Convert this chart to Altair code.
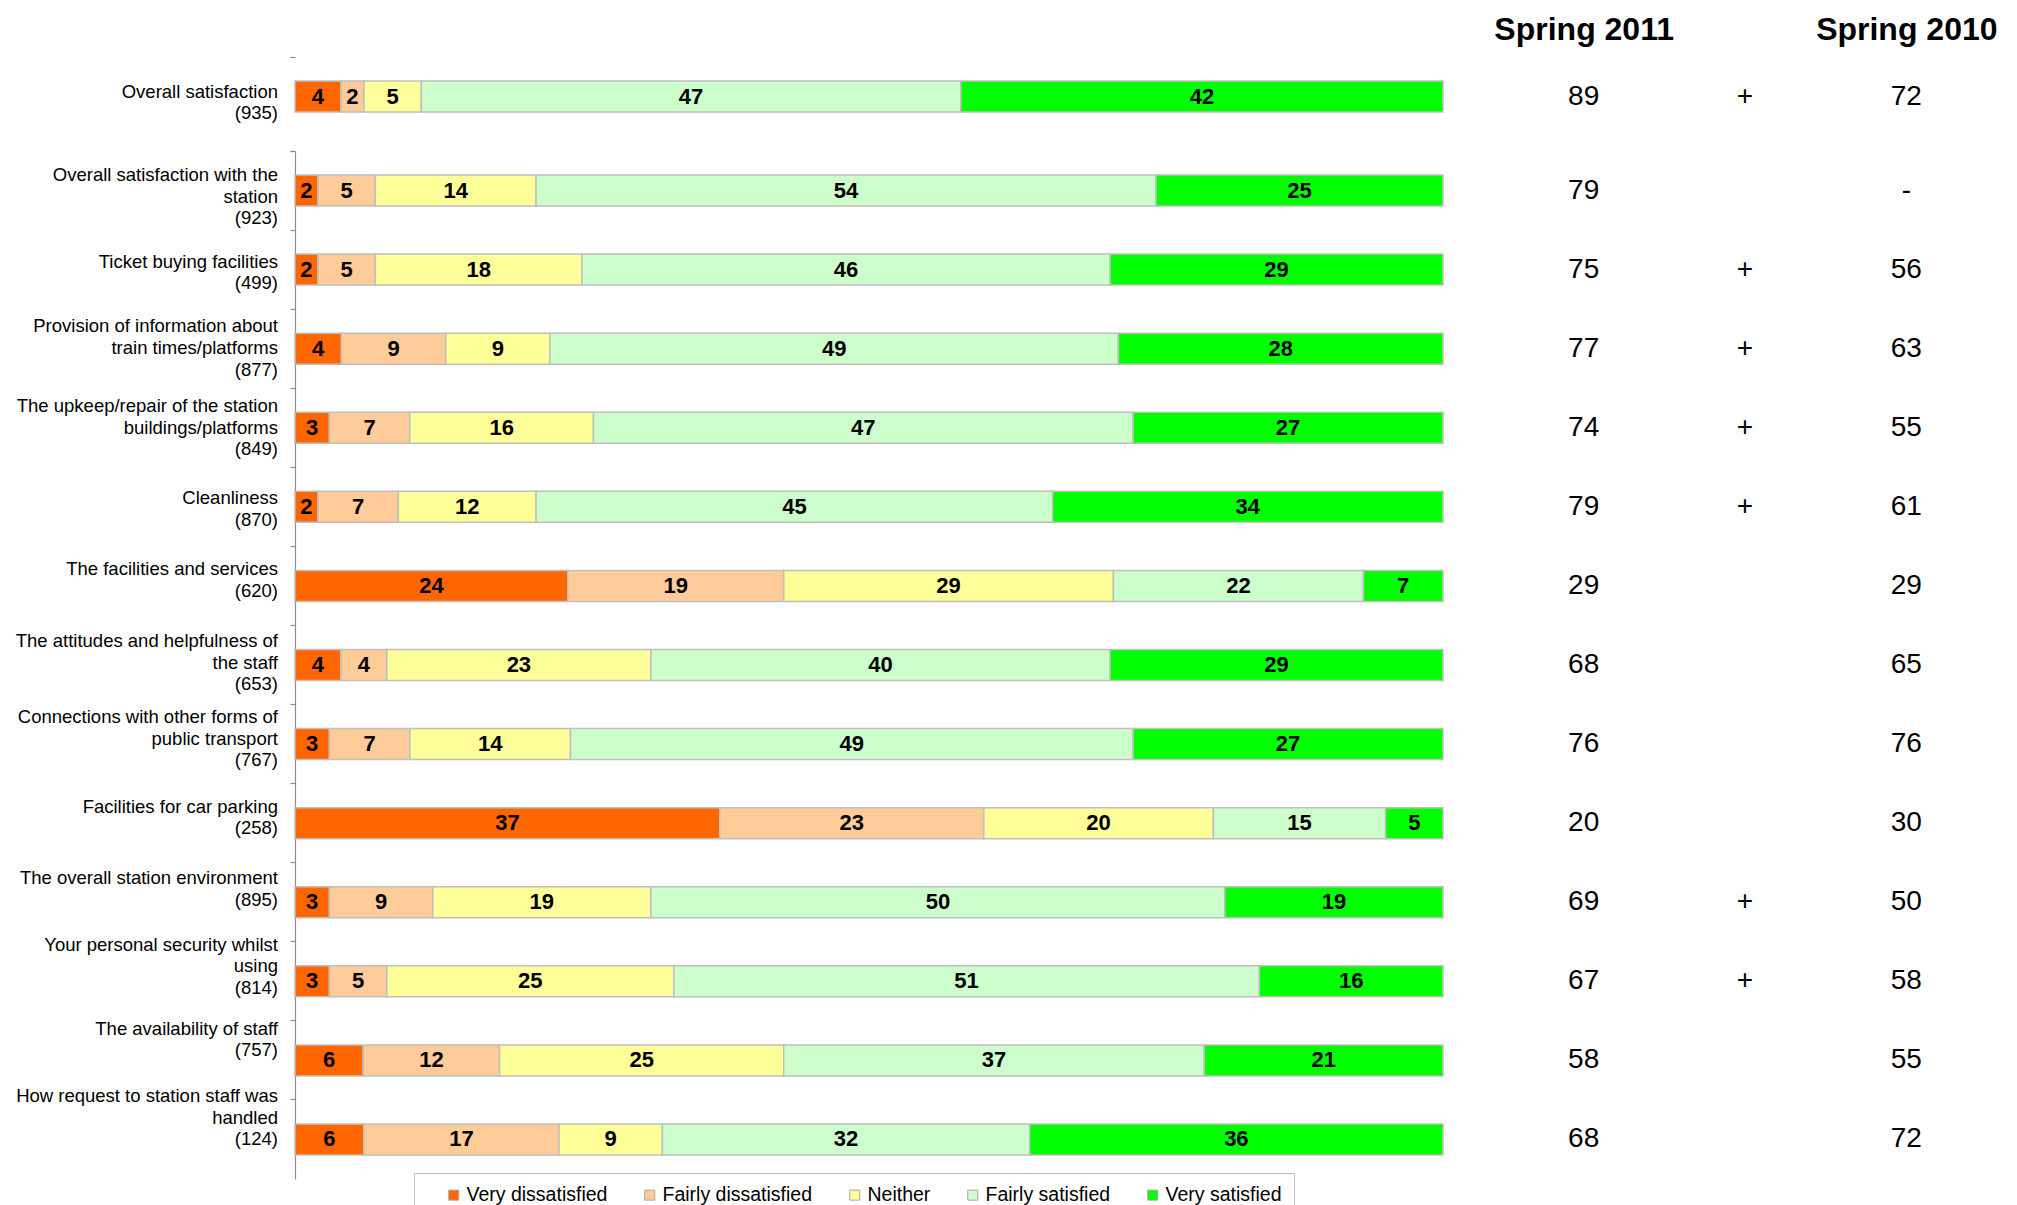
import json
import altair as alt
import pandas as pd

# ---------------- data ----------------
labels = [
    "Overall satisfaction|(935)",
    "Overall satisfaction  with the|station|(923)",
    "Ticket buying facilities|(499)",
    "Provision of information about|train times/platforms|(877)",
    "The upkeep/repair of the station|buildings/platforms|(849)",
    "Cleanliness|(870)",
    "The facilities and services|(620)",
    "The attitudes and helpfulness of|the staff|(653)",
    "Connections with other forms of|public transport|(767)",
    "Facilities for car parking|(258)",
    "The overall station environment|(895)",
    "Your personal security whilst|using|(814)",
    "The availability of staff|(757)",
    "How request to station staff was|handled|(124)",
]
categories = ["Very dissatisfied", "Fairly dissatisfied", "Neither", "Fairly satisfied", "Very satisfied"]
colors = ["#FF6600", "#FFCC99", "#FFFF99", "#CCFFCC", "#00FF00"]

very_dissatisfied = [4, 2, 2, 4, 3, 2, 24, 4, 3, 37, 3, 3, 6, 6]
fairly_dissatisfied = [2, 5, 5, 9, 7, 7, 19, 4, 7, 23, 9, 5, 12, 17]
neither = [5, 14, 18, 9, 16, 12, 29, 23, 14, 20, 19, 25, 25, 9]
fairly_satisfied = [47, 54, 46, 49, 47, 45, 22, 40, 49, 15, 50, 51, 37, 32]
very_satisfied = [42, 25, 29, 28, 27, 34, 7, 29, 27, 5, 19, 16, 21, 36]

spring_2011 = ["89", "79", "75", "77", "74", "79", "29", "68", "76", "20", "69", "67", "58", "68"]
change = ["+", "", "+", "+", "+", "+", "", "", "", "", "+", "+", "", ""]
spring_2010 = ["72", "-", "56", "63", "55", "61", "29", "65", "76", "30", "50", "58", "55", "72"]

columns = ["Spring 2011", "chg", "Spring 2010"]

# style: vertical nudge (px) of each row's label block relative to its bar
label_nudge = [6, 6, 2.8, -0.8, 0, 2.5, -5.8, -2.3, -5.5, -5.8, -13.3, -15, -20.8, -21.7]

series = [very_dissatisfied, fairly_dissatisfied, neither, fairly_satisfied, very_satisfied]

bar_rows = []
for i, lab in enumerate(labels):
    for j, cat in enumerate(categories):
        bar_rows.append({"row": lab, "idx": i, "cat": cat, "order": j, "val": series[j][i]})
bars_df = pd.DataFrame(bar_rows)

col_rows = []
for i, lab in enumerate(labels):
    for c, vals in zip(columns, [spring_2011, change, spring_2010]):
        col_rows.append({"row": lab, "idx": i, "col": c, "txt": vals[i]})
cols_df = pd.DataFrame(col_rows)

FONT = "Liberation Sans, Arial, sans-serif"
BAR_W = 1148
COL_W = 484
TOP_H = 79
BOT_H = 1028
LINE_H = 21.7

LABELS_JS = json.dumps(labels)
NUDGE_JS = json.dumps(label_nudge)
offset_expr = (
    f"-(length(split(datum.value, '|')) - 1) * {LINE_H / 2} + "
    f"{NUDGE_JS}[indexof({LABELS_JS}, datum.value)]"
)


def bar_panel(df, rows, height, top, legend):
    base = alt.Chart(df).transform_stack(
        stack="val", groupby=["row"], as_=["x0", "x1"], offset="normalize",
        sort=[alt.SortField("order", order="ascending")],
    ).transform_calculate(mid="(datum.x0 + datum.x1) / 2")

    axis_kwargs = dict(
        labelExpr="split(datum.label, '|')",
        labelFont=FONT, labelFontSize=18.5, labelColor="black",
        labelLineHeight=LINE_H, labelAlign="right", labelBaseline="middle",
        labelPadding=12.5, labelOffset={"expr": offset_expr},
        ticks=True, tickSize=5, tickColor="#8C8C8C", tickWidth=1.2, bandPosition=0,
        domain=not top, domainColor="#8C8C8C", domainWidth=1.2,
        minExtent=282, maxExtent=282, labelLimit=300,
    )
    if not top:
        axis_kwargs["tickExtra"] = True
    yenc = alt.Y(
        "row:N", sort=rows, title=None,
        scale=alt.Scale(domain=rows, paddingInner=0, paddingOuter=0),
        axis=alt.Axis(**axis_kwargs),
    )
    xscale = alt.Scale(domain=[0, 1], nice=False, zero=True)
    if legend:
        leg = alt.Legend(
            orient="none", legendX=119, legendY=1022, direction="horizontal",
            title=None, symbolType="square", symbolSize=100,
            symbolStrokeColor="#A6A6A6", symbolStrokeWidth=1,
            labelFont=FONT, labelFontSize=19.5, labelColor="black", labelOffset=3,
            columnPadding=14, symbolOffset=18, padding=12,
            strokeColor="#BFBFBF", fillColor="white",
        )
    else:
        leg = None
    color = alt.Color(
        "cat:N", sort=categories,
        scale=alt.Scale(domain=categories, range=colors),
        legend=leg,
    )
    bars = base.mark_bar(size=31, stroke="#BFBFBF", strokeWidth=1.5).encode(
        x=alt.X("x0:Q", scale=xscale, axis=None),
        x2="x1:Q",
        y=yenc,
        color=color,
        order=alt.Order("order:Q"),
    )
    text = base.mark_text(font=FONT, fontSize=22, fontWeight="bold", color="black").encode(
        x=alt.X("mid:Q", scale=xscale, axis=None),
        y=alt.Y("row:N", sort=rows),
        text="val:Q",
    )
    return alt.layer(bars, text).properties(width=BAR_W, height=height)


def col_panel(df, rows, height, header):
    if header:
        xaxis = alt.Axis(
            orient="top", title=None, labelAngle=0, domain=False, ticks=False, tickSize=0,
            labelFont=FONT, labelFontSize=32, labelFontWeight="bold", labelColor="black",
            labelPadding=11, labelLimit=0,
            labelExpr="datum.value == 'chg' ? '' : datum.value",
        )
    else:
        xaxis = None
    return alt.Chart(df).mark_text(font=FONT, fontSize=28, color="black").encode(
        x=alt.X("col:N", sort=columns, title=None,
                scale=alt.Scale(domain=columns, paddingInner=0, paddingOuter=0), axis=xaxis),
        y=alt.Y("row:N", sort=rows, axis=None,
                scale=alt.Scale(domain=rows, paddingInner=0, paddingOuter=0)),
        text="txt:N",
    ).properties(width=COL_W, height=height)


top_rows = labels[:1]
bot_rows = labels[1:]

top = alt.hconcat(
    bar_panel(bars_df[bars_df.idx == 0], top_rows, TOP_H, True, False),
    col_panel(cols_df[cols_df.idx == 0], top_rows, TOP_H, True),
    spacing=60, bounds="flush",
).resolve_scale(color="independent")
bottom = alt.hconcat(
    bar_panel(bars_df[bars_df.idx > 0], bot_rows, BOT_H, False, True),
    col_panel(cols_df[cols_df.idx > 0], bot_rows, BOT_H, False),
    spacing=60, bounds="flush",
).resolve_scale(color="independent")

chart = alt.vconcat(top, bottom, spacing=6).resolve_scale(
    color="independent"
).configure_view(stroke=None).properties(background="white", padding=5)

chart.save("out.html", embed_options={"renderer": "svg", "actions": False})
